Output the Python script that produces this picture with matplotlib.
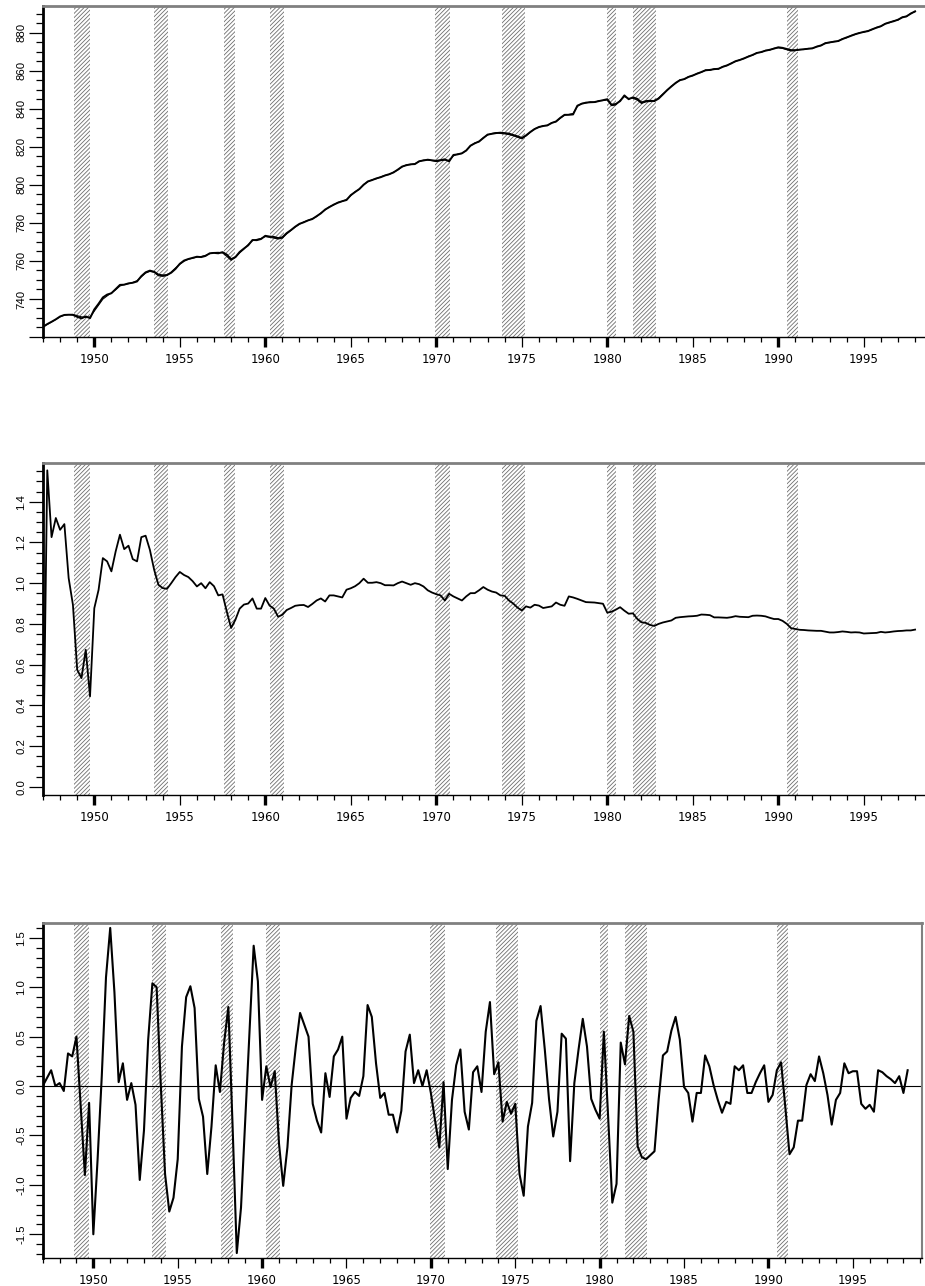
"""
Three stacked quarterly panels, 1947-1998, with hatched recession bands.
"""
import numpy as np
import matplotlib.pyplot as plt
import matplotlib as mpl
from matplotlib import font_manager
from matplotlib.ticker import FixedLocator, MultipleLocator, FixedFormatter

_names = {f.name for f in font_manager.fontManager.ttflist}
NARROW = 'Liberation Sans Narrow' if 'Liberation Sans Narrow' in _names else 'Liberation Sans'

mpl.rcParams.update({
    'axes.unicode_minus': False,
    'hatch.linewidth': 0.6, 'hatch.color': '#6e6e6e',
})

HATCH = '#6e6e6e'; GREY = '#808080'

START = 1947.0  # first quarter

recessions = [(1948.83, 1949.75), (1953.50, 1954.33), (1957.58, 1958.25),
              (1960.25, 1961.08), (1969.92, 1970.83), (1973.83, 1975.17),
              (1980.00, 1980.50), (1981.50, 1982.83), (1990.50, 1991.17)]

# panel 1: two nearly coincident level series
level_a = [
    725.4, 726.8, 728.0, 729.3, 730.8, 731.6, 731.7, 731.6, 730.6, 729.8, 730.8, 729.9,
    734.5, 737.5, 740.8, 742.3, 743.0, 745.2, 747.4, 747.5, 748.2, 748.5, 749.2, 752.0,
    754.0, 754.9, 754.3, 752.8, 752.4, 752.6, 753.8, 755.8, 758.5, 760.2, 761.0, 761.6,
    762.2, 762.0, 762.6, 764.0, 764.2, 764.0, 764.6, 763.3, 760.9, 762.0, 764.7, 766.5,
    768.2, 771.0, 770.9, 771.5, 773.2, 772.8, 772.6, 772.0, 772.4, 774.6, 776.2, 778.0,
    779.5, 780.3, 781.3, 782.0, 783.5, 785.0, 787.0, 788.3, 789.6, 790.6, 791.4, 792.0,
    794.6, 796.2, 797.8, 800.0, 801.8, 802.5, 803.4, 804.0, 804.9, 805.6, 806.5, 808.0,
    809.6, 810.3, 810.8, 810.9, 812.4, 812.8, 813.2, 812.9, 812.6, 813.0, 813.4, 812.3,
    815.7, 816.0, 816.6, 818.0, 820.6, 821.8, 822.8, 824.6, 826.4, 826.8, 827.2, 827.4,
    827.2, 826.9, 826.2, 825.5, 824.6, 826.0, 827.8, 829.3, 830.4, 830.9, 831.3, 832.5,
    833.3, 835.2, 836.8, 836.8, 837.0, 841.6, 842.6, 843.2, 843.4, 843.5, 844.0, 844.5,
    845.0, 842.1, 842.5, 844.0, 847.0, 845.0, 846.0, 845.2, 843.3, 844.0, 844.2, 844.0,
    845.3, 847.5, 849.8, 851.7, 853.6, 855.0, 855.6, 856.7, 857.5, 858.4, 859.3, 860.2,
    860.4, 860.8, 861.0, 862.0, 862.8, 863.8, 865.0, 865.6, 866.5, 867.4, 868.3, 869.3,
    869.8, 870.5, 871.0, 871.6, 872.3, 872.0, 871.4, 870.8, 870.8, 871.0, 871.3, 871.5,
    871.8, 872.6, 873.3, 874.4, 874.9, 875.2, 875.6, 876.6, 877.5, 878.3, 879.2, 879.8,
    880.4, 880.8, 881.8, 882.6, 883.4, 884.6, 885.4, 886.0, 886.8, 888.0, 888.6, 890.0,
    891.2]
level_b = [
    725.2, 726.6, 727.9, 729.2, 730.6, 731.5, 731.8, 731.9, 731.2, 730.6, 730.3, 730.5,
    733.6, 736.8, 739.9, 741.6, 743.2, 744.8, 746.8, 747.6, 748.0, 748.7, 749.6, 751.6,
    753.6, 754.5, 754.0, 752.2, 751.9, 752.3, 754.2, 756.3, 758.2, 759.8, 760.9, 761.4,
    762.0, 762.3, 762.9, 763.8, 764.4, 764.5, 764.2, 762.4, 760.3, 761.8, 764.2, 766.2,
    768.6, 770.6, 771.3, 771.8, 772.8, 772.4, 772.0, 771.5, 772.0, 774.2, 776.0, 777.8,
    779.3, 780.5, 781.3, 782.2, 783.3, 785.2, 786.8, 788.5, 789.4, 790.8, 791.3, 792.3,
    794.3, 796.4, 797.6, 800.2, 801.6, 802.7, 803.2, 804.2, 805.0, 805.4, 806.7, 807.8,
    809.4, 810.5, 810.6, 811.1, 812.2, 813.0, 813.0, 812.7, 812.2, 812.7, 813.0, 812.8,
    815.2, 816.2, 816.4, 818.2, 820.4, 822.0, 822.6, 824.8, 826.2, 827.0, 827.4, 827.0,
    826.8, 826.4, 825.8, 825.0, 824.2, 825.7, 827.6, 829.5, 830.2, 831.1, 831.1, 832.7,
    833.1, 835.0, 836.6, 837.0, 837.5, 841.2, 842.8, 843.0, 843.6, 843.3, 844.2, 844.3,
    844.6, 841.6, 842.0, 844.4, 846.4, 845.4, 845.5, 844.6, 842.8, 843.6, 843.8, 844.2,
    845.7, 847.8, 849.6, 851.9, 853.4, 855.2, 855.4, 856.9, 857.3, 858.6, 859.1, 860.4,
    860.2, 861.0, 860.8, 862.2, 862.6, 864.0, 864.8, 865.8, 866.3, 867.6, 868.1, 869.5,
    869.6, 870.7, 870.8, 871.8, 872.0, 871.7, 871.0, 870.4, 870.5, 871.2, 871.1, 871.7,
    871.6, 872.8, 873.1, 874.6, 874.7, 875.4, 875.4, 876.8, 877.3, 878.5, 879.0, 880.0,
    880.2, 881.0, 881.6, 882.8, 883.2, 884.8, 885.2, 886.2, 886.6, 888.2, 888.4, 890.2,
    891.0]

# panel 2
ratio = [
    0.0, 1.554, 1.226, 1.32, 1.262, 1.29, 1.025, 0.894, 0.575, 0.534, 0.673, 0.444,
    0.877, 0.967, 1.123, 1.107, 1.058, 1.156, 1.238, 1.167, 1.184, 1.118, 1.107, 1.226,
    1.233, 1.164, 1.066, 0.992, 0.976, 0.972, 1.0, 1.03, 1.055, 1.04, 1.03, 1.01,
    0.984, 1.0, 0.975, 1.005, 0.985, 0.94, 0.945, 0.86, 0.78, 0.82, 0.875, 0.895,
    0.90, 0.925, 0.875, 0.875, 0.927, 0.89, 0.875, 0.835, 0.845, 0.868, 0.878, 0.889,
    0.892, 0.893, 0.883, 0.898, 0.915, 0.925, 0.91, 0.94, 0.94, 0.935, 0.93, 0.968,
    0.975, 0.985, 1.0, 1.022, 1.002, 1.002, 1.005, 1.0, 0.99, 0.99, 0.989, 1.0,
    1.008, 1.0, 0.992, 1.0, 0.995, 0.984, 0.965, 0.954, 0.946, 0.94, 0.915, 0.948,
    0.935, 0.925, 0.915, 0.935, 0.951, 0.951, 0.965, 0.981, 0.968, 0.959, 0.954, 0.94,
    0.938, 0.915, 0.90, 0.88, 0.866, 0.886, 0.88, 0.894, 0.89, 0.878, 0.882, 0.886,
    0.905, 0.894, 0.889, 0.935, 0.93, 0.923, 0.915, 0.907, 0.906, 0.905, 0.902, 0.899,
    0.855, 0.86, 0.87, 0.882, 0.865, 0.85, 0.852, 0.825, 0.808, 0.805, 0.795, 0.79,
    0.80, 0.807, 0.812, 0.817, 0.83, 0.833, 0.835, 0.837, 0.838, 0.84, 0.846, 0.845,
    0.843, 0.832, 0.832, 0.831, 0.83, 0.833, 0.838, 0.835, 0.834, 0.833, 0.84, 0.841,
    0.84, 0.837, 0.83, 0.824, 0.824, 0.815, 0.80, 0.779, 0.775, 0.771, 0.77, 0.768,
    0.767, 0.766, 0.766, 0.762, 0.758, 0.758, 0.76, 0.763, 0.761, 0.758, 0.759, 0.758,
    0.753, 0.754, 0.755, 0.756, 0.761, 0.758, 0.76, 0.763, 0.765, 0.766, 0.768, 0.768,
    0.772]

# panel 3
gap = [
    0.0, 0.08, 0.16, 0.0, 0.03, -0.05, 0.33, 0.30, 0.50, -0.2, -0.9, -0.17,
    -1.5, -0.75, 0.1, 1.1, 1.6, 0.95, 0.04, 0.23, -0.14, 0.03, -0.19, -0.95,
    -0.45, 0.47, 1.04, 1.0, 0.0, -0.89, -1.27, -1.13, -0.74, 0.4, 0.9, 1.01,
    0.79, -0.13, -0.31, -0.89, -0.41, 0.21, -0.06, 0.44, 0.8, -0.4, -1.69, -1.23,
    -0.35, 0.54, 1.42, 1.06, -0.14, 0.2, -0.01, 0.15, -0.58, -1.01, -0.62, 0.01,
    0.4, 0.74, 0.62, 0.5, -0.18, -0.35, -0.47, 0.13, -0.11, 0.3, 0.37, 0.5,
    -0.33, -0.12, -0.06, -0.1, 0.1, 0.82, 0.7, 0.23, -0.12, -0.07, -0.29, -0.29,
    -0.47, -0.25, 0.35, 0.52, 0.03, 0.16, 0.0, 0.16, -0.07, -0.35, -0.62, 0.04,
    -0.84, -0.14, 0.21, 0.37, -0.26, -0.44, 0.14, 0.2, -0.06, 0.55, 0.85, 0.12,
    0.24, -0.36, -0.16, -0.28, -0.18, -0.89, -1.11, -0.41, -0.17, 0.66, 0.81, 0.37,
    -0.13, -0.51, -0.26, 0.53, 0.48, -0.76, 0.03, 0.37, 0.68, 0.4, -0.13, -0.24,
    -0.33, 0.55, -0.3, -1.18, -0.99, 0.44, 0.22, 0.71, 0.55, -0.61, -0.72, -0.74,
    -0.7, -0.66, -0.13, 0.31, 0.35, 0.56, 0.7, 0.47, -0.01, -0.07, -0.36, -0.07,
    -0.07, 0.31, 0.2, 0.01, -0.14, -0.27, -0.16, -0.18, 0.2, 0.16, 0.21, -0.07,
    -0.07, 0.04, 0.13, 0.21, -0.16, -0.09, 0.16, 0.24, -0.21, -0.69, -0.62, -0.35,
    -0.35, 0.01, 0.12, 0.05, 0.3, 0.13, -0.09, -0.39, -0.14, -0.07, 0.23, 0.13,
    0.15, 0.15, -0.18, -0.23, -0.19, -0.26, 0.16, 0.14, 0.1, 0.07, 0.03, 0.1,
    -0.07, 0.16]


def quarters(vals):
    return START + np.arange(len(vals)) / 4.0


def dress(ax, xmax, ylim, ymajor, ylabels, yminor, boxed=False):
    ax.set_xlim(1947, xmax)
    ax.set_ylim(*ylim)
    for a, b in recessions:
        ax.axvspan(a, b, facecolor='white', edgecolor=HATCH, hatch='////////',
                   linewidth=0, zorder=1)

    # spines
    ax.spines['left'].set_linewidth(2.0); ax.spines['left'].set_color('black')
    ax.spines['bottom'].set_linewidth(1.0); ax.spines['bottom'].set_color('black')
    ax.spines['top'].set_linewidth(2.0); ax.spines['top'].set_color(GREY)
    if boxed:
        ax.spines['right'].set_linewidth(1.5); ax.spines['right'].set_color(GREY)
    else:
        ax.spines['right'].set_visible(False)

    # x axis: yearly minor, 5-year labelled majors, thicker decade ticks
    ax.xaxis.set_major_locator(FixedLocator(np.arange(1950, 2000, 5)))
    ax.xaxis.set_minor_locator(MultipleLocator(1))
    ax.set_xticklabels([str(y) for y in range(1950, 2000, 5)],
                       fontsize=8.5, family='DejaVu Sans')
    ax.tick_params(axis='x', which='major', direction='out', length=7.2, width=0.9, pad=4)
    ax.tick_params(axis='x', which='minor', direction='out', length=3.6, width=0.9)
    for t, loc in zip(ax.xaxis.get_major_ticks(), range(1950, 2000, 5)):
        if loc % 10 == 0:
            t.tick1line.set_markeredgewidth(2.4)

    # y axis: rotated condensed labels
    ax.yaxis.set_major_locator(FixedLocator(ymajor))
    ax.yaxis.set_major_formatter(FixedFormatter(ylabels))
    ax.yaxis.set_minor_locator(MultipleLocator(yminor))
    ax.tick_params(axis='y', which='major', direction='out', length=10, width=0.9, pad=2)
    ax.tick_params(axis='y', which='minor', direction='out', length=5, width=0.9)
    for lab in ax.get_yticklabels():
        lab.set_rotation(90); lab.set_va('center'); lab.set_fontsize(8.2)
        lab.set_family(NARROW)


W, H = 925, 1286
fig = plt.figure(figsize=(W / 100, H / 100), dpi=100)

# ===== Panel 1 =====
ax1 = fig.add_axes([43 / W, 1 - 337 / H, (925 - 43) / W, (337 - 6) / H])
ax1.plot(quarters(level_b), level_b, color='black', linewidth=0.8, zorder=3)
ax1.plot(quarters(level_a), level_a, color='black', linewidth=1.4, zorder=4)
yt = list(range(720, 900, 20))
dress(ax1, 1998.58, (720, 894), yt, [''] + [str(v) for v in yt[1:]], 5)

# ===== Panel 2 =====
ax2 = fig.add_axes([43 / W, 1 - 795 / H, (925 - 43) / W, (795 - 463) / H])
ax2.plot(quarters(ratio), ratio, color='black', linewidth=1.3, zorder=3)
yt = [0.0, 0.2, 0.4, 0.6, 0.8, 1.0, 1.2, 1.4]
dress(ax2, 1998.58, (-0.04, 1.59), yt, [f'{v:.1f}' for v in yt], 0.05)

# ===== Panel 3 =====
ax3 = fig.add_axes([42.7 / W, 1 - 1258 / H, (922 - 42.7) / W, (1258 - 923) / H])
ax3.axhline(0, color='black', linewidth=0.8, zorder=2)
ax3.plot(quarters(gap), gap, color='black', linewidth=1.5, zorder=3)
yt = [-1.5, -1.0, -0.5, 0.0, 0.5, 1.0, 1.5]
dress(ax3, 1999.1, (-1.74, 1.65), yt, [f'{v:.1f}' for v in yt], 0.1, boxed=True)

fig.savefig('out.png', dpi=100)
plt.close(fig)
